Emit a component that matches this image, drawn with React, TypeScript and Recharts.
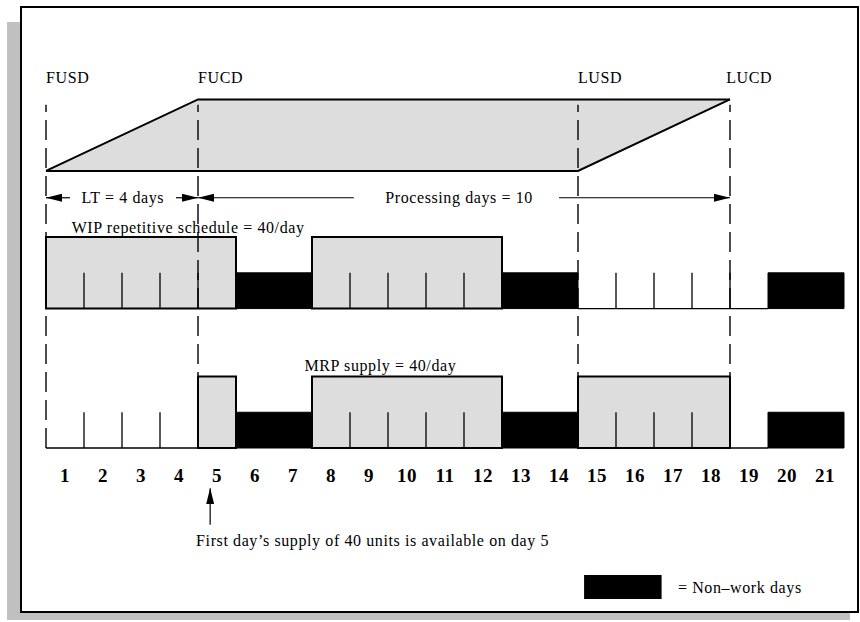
import React from 'react';
import { ComposedChart, Area, XAxis, YAxis, ReferenceArea, ReferenceLine, ReferenceDot } from 'recharts';

// day cells 1..21, each occupies [day-1, day] on the x axis
const days = [1, 2, 3, 4, 5, 6, 7, 8, 9, 10, 11, 12, 13, 14, 15, 16, 17, 18, 19, 20, 21];
// W = 40/day supplied, N = non-work day, - = nothing
const wipSchedule = ['W', 'W', 'W', 'W', 'W', 'N', 'N', 'W', 'W', 'W', 'W', 'W', 'N', 'N', '-', '-', '-', '-', '-', 'N', 'N'];
const mrpSupply = ['-', '-', '-', '-', 'W', 'N', 'N', 'W', 'W', 'W', 'W', 'W', 'N', 'N', 'W', 'W', 'W', 'W', '-', 'N', 'N'];

const dailyRate = 40;
const nonWorkHeight = 20;
const leadTime = 4;
const processingDays = 10;
const milestoneNames = ['FUSD', 'FUCD', 'LUSD', 'LUCD'];
const milestoneDays = [0, leadTime, leadTime + processingDays, 2 * leadTime + processingDays];

// row levels on the y axis
const mrpBase = 0;
const wipBase = 78;
const planBase = 155;
const arrowLevel = 140;

const planData = [
  { day: milestoneDays[0], band: [planBase, planBase] },
  { day: milestoneDays[1], band: [planBase, planBase + dailyRate] },
  { day: milestoneDays[2], band: [planBase, planBase + dailyRate] },
  { day: milestoneDays[3], band: [planBase + dailyRate, planBase + dailyRate] },
];

const GRAY = '#dddddd';
const FONT = '"Liberation Serif", "Times New Roman", serif';

const runs = (s: string[]) => {
  const out: { kind: string; from: number; to: number }[] = [];
  let start = 0;
  for (let i = 1; i <= s.length; i++) {
    if (i === s.length || s[i] !== s[start]) {
      out.push({ kind: s[start], from: start, to: i });
      start = i;
    }
  }
  return out;
};

const renderRow = (s: string[], base: number, key: string) => {
  const els: any[] = [];
  runs(s).forEach((r, i) => {
    if (r.kind === 'W') {
      els.push(
        <ReferenceArea key={`${key}-w${i}`} x1={r.from} x2={r.to} y1={base} y2={base + dailyRate}
          fill={GRAY} fillOpacity={1} stroke="#000" strokeWidth={2} ifOverflow="visible" />
      );
    } else if (r.kind === 'N') {
      els.push(
        <ReferenceArea key={`${key}-n${i}`} x1={r.from} x2={r.to} y1={base} y2={base + nonWorkHeight}
          fill="#000" fillOpacity={1} stroke="#000" strokeWidth={1} ifOverflow="visible" />
      );
    } else {
      els.push(
        <ReferenceLine key={`${key}-b${i}`} segment={[{ x: r.from, y: base }, { x: r.to, y: base }]}
          stroke="#000" strokeWidth={1.3} ifOverflow="visible" />
      );
    }
  });
  // small day dividers inside a run of equal days (not in non-work runs)
  for (let b = 1; b < s.length; b++) {
    if (s[b - 1] === s[b] && s[b] !== 'N') {
      els.push(
        <ReferenceLine key={`${key}-t${b}`} segment={[{ x: b, y: base }, { x: b, y: base + nonWorkHeight }]}
          stroke="#000" strokeWidth={1.3} ifOverflow="visible" />
      );
    }
  }
  return els;
};

const textAt = (key: string, x: number, y: number, value: string, size = 16, position: any = 'center') => (
  <ReferenceDot key={key} x={x} y={y} r={0} stroke="none" fill="none" ifOverflow="visible"
    label={{ value, position, offset: 0, fill: '#000', fontSize: size, fontFamily: FONT }} />
);

const arrow = (key: string, x1: number, y1: number, x2: number, y2: number) => (
  <ReferenceLine key={key} segment={[{ x: x1, y: y1 }, { x: x2, y: y2 }]} stroke="#000" strokeWidth={1.2}
    markerEnd="url(#arrowHead)" ifOverflow="visible" />
);

export default function App() {
  return (
    <div style={{ position: 'absolute', left: 0, top: 0, width: 860, height: 622, background: '#fff', fontFamily: FONT, letterSpacing: '0.6px' }}>
      <svg width={0} height={0} style={{ position: 'absolute' }}>
        <defs>
          <marker id="arrowHead" viewBox="0 0 10 10" refX="10" refY="5" markerWidth="16" markerHeight="8"
            markerUnits="userSpaceOnUse" orient="auto" preserveAspectRatio="none">
            <path d="M0,0 L10,5 L0,10 z" fill="#000" />
          </marker>
        </defs>
      </svg>
      <div style={{ position: 'absolute', left: 7, top: 22, width: 843, height: 598, background: '#c0c0c0' }} />
      <div style={{ position: 'absolute', left: 20, top: 6, width: 839, height: 607, background: '#fff', border: '2px solid #000', boxSizing: 'border-box' }} />
      <div style={{ position: 'absolute', left: 0, top: 0 }}>
        <ComposedChart width={860} height={622} data={planData} margin={{ top: 90.5, right: 16, bottom: 144, left: 46 }}>
          <XAxis dataKey="day" type="number" domain={[0, 21]} ticks={days.map((d) => d - 0.5)}
            tickFormatter={(v: number) => String(v + 0.5)} axisLine={false} tickLine={false} tickMargin={15}
            height={30} interval={0} tick={{ fill: '#000', fontSize: 19, fontWeight: 'bold', fontFamily: FONT }} />
          <YAxis type="number" domain={[0, 200]} hide />
          <Area dataKey="band" type="linear" fill={GRAY} fillOpacity={1} stroke="#000" strokeWidth={2}
            dot={false} activeDot={false} isAnimationActive={false} />

          {renderRow(wipSchedule, wipBase, 'wip')}
          {renderRow(mrpSupply, mrpBase, 'mrp')}

          {milestoneDays.map((d) => (
            <ReferenceLine key={`dash-${d}`} segment={[{ x: d, y: mrpBase }, { x: d, y: planBase + dailyRate - 3 }]}
              stroke="#000" strokeWidth={1.4} strokeDasharray="20 8" ifOverflow="visible" />
          ))}

          {milestoneNames.map((n, i) => textAt(`ms-${n}`, milestoneDays[i] - (i === 3 ? 0.1 : 0), 207.5, n, 16, 'right'))}

          {arrow('lt-l', 0.63, arrowLevel, 0, arrowLevel)}
          {arrow('lt-r', 3.42, arrowLevel, leadTime, arrowLevel)}
          {textAt('lt-t', 2.02, arrowLevel, 'LT = 4 days')}
          {arrow('pd-l', 8.1, arrowLevel, leadTime, arrowLevel)}
          {arrow('pd-r', 13.5, arrowLevel, milestoneDays[3], arrowLevel)}
          {textAt('pd-t', 10.87, arrowLevel, 'Processing days = 10')}

          {textAt('wip-t', 3.74, wipBase + dailyRate + 5.5, 'WIP repetitive schedule = 40/day')}
          {textAt('mrp-t', 8.8, mrpBase + dailyRate + 6.5, 'MRP supply = 40/day')}

          {arrow('d5', 4.32, -43, 4.32, -22.5)}
          {textAt('cap', 3.95, -51.5, 'First day\u2019s supply of 40 units is available on day 5', 16, 'right')}

          <ReferenceArea x1={14.16} x2={16.2} y1={-71} y2={-84.5} fill="#000" fillOpacity={1} stroke="none" ifOverflow="visible" />
          {textAt('leg', 16.63, -78, '= Non\u2013work days', 16, 'right')}
        </ComposedChart>
      </div>
    </div>
  );
}
